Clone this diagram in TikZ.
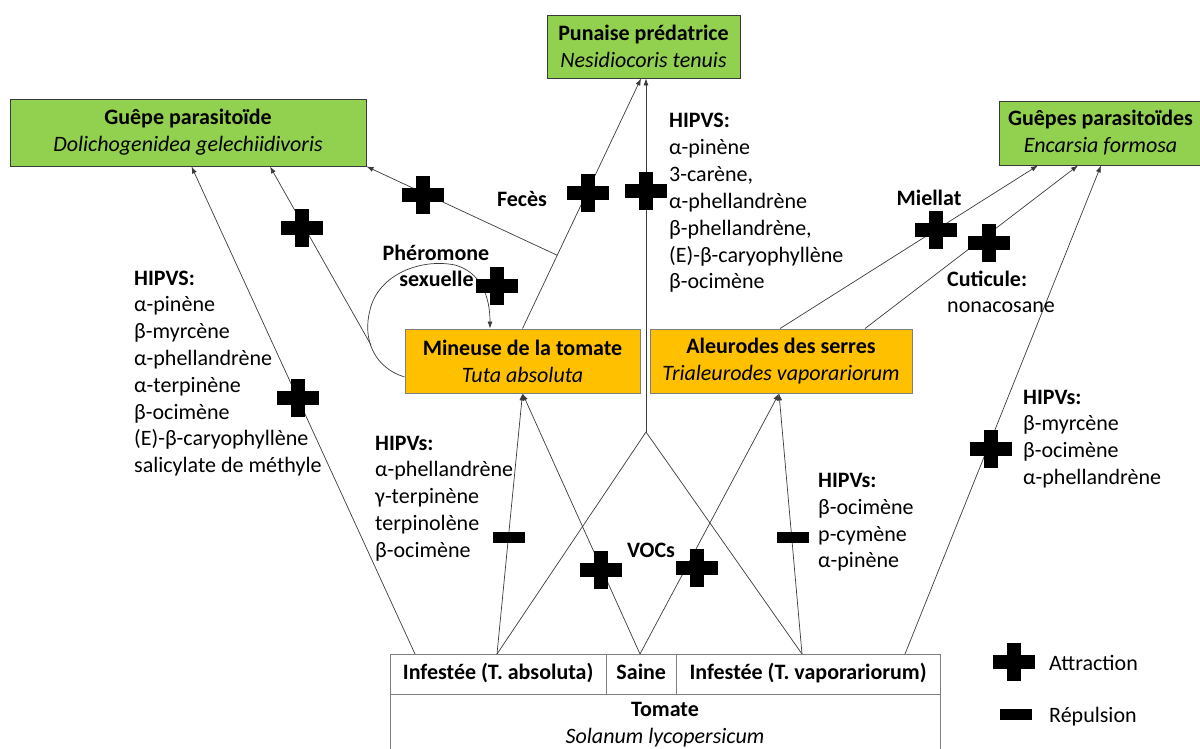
\documentclass[tikz,border=0pt]{standalone}
\usepackage{fontspec}
\setmainfont{Carlito}
\usetikzlibrary{arrows.meta,calc}
\definecolor{leaf}{HTML}{92D050}
\definecolor{amber}{HTML}{FFC000}
\definecolor{wire}{HTML}{3A3A3A}
\definecolor{frame}{HTML}{7F7F7F}
% one text line per node, baselines 26.8pt apart
\newcommand{\linelist}[4]{%
  \foreach \t [count=\i from 0] in {#4}{\node[lbl] (#1\i) at (#2,#3+26.8*\i) {\t};}}
\begin{document}
\begin{tikzpicture}[x=1pt,y=-1pt,
  every node/.style={font=\fontsize{22}{27}\selectfont, inner sep=0pt},
  enemy/.style={draw=wire, line width=0.9pt, fill=leaf, align=center},
  pest/.style={draw=frame, line width=0.9pt, fill=amber, align=center},
  cell/.style={draw=frame, line width=0.9pt, fill=white, align=center, anchor=north west},
  rowcell/.style={cell, minimum height=40, text height=15.5pt, text depth=5pt},
  link/.style={draw=wire, line width=0.7pt},
  arr/.style={link, -{Latex[length=7pt,width=5pt]}},
  lbl/.style={anchor=base west},
  mid/.style={anchor=base},
  attract/.pic={\fill[black] (-21,-7) rectangle (21,7); \fill[black] (-7,-19) rectangle (7,19);},
  repel/.pic={\fill[black] (-16,-5.5) rectangle (16,5.5);}
]
\useasboundingbox (0,0) rectangle (1200,749);

% natural enemies
\node[enemy, minimum width=193, minimum height=63] (punaise) at (643.5,46.5)
  {\textbf{Punaise prédatrice}\\\textit{Nesidiocoris tenuis}};
\node[enemy, minimum width=356, minimum height=67] (guepe) at (188,132.5)
  {\textbf{Guêpe parasitoïde}\\\textit{Dolichogenidea gelechiidivoris}};
\node[enemy, minimum width=203, minimum height=64] (guepes) at (1100.5,133)
  {\textbf{Guêpes parasitoïdes}\\\textit{Encarsia formosa}};

% pests
\node[pest, minimum width=235, minimum height=64] (mineuse) at (522.5,361)
  {\textbf{Mineuse de la tomate}\\\textit{Tuta absoluta}};
\node[pest, minimum width=262, minimum height=64] (aleurode) at (781,361)
  {\textbf{Aleurodes des serres}\\\textit{Trialeurodes vaporariorum}};

% host plant table
\node[rowcell, minimum width=216.2] (infA) at (389.6,654) {\textbf{Infestée (T. absoluta)}};
\node[rowcell, minimum width=70] (saine) at (605.8,654) {\textbf{Saine}};
\node[rowcell, minimum width=263.7] (infV) at (675.8,654) {\textbf{Infestée (T. vaporariorum)}};
\node[cell, minimum width=549.9, minimum height=66, text depth=10pt] (tomate) at (389.6,694)
  {\textbf{Tomate}\\\textit{Solanum lycopersicum}};

% connector end points
\coordinate (s1) at (415,654);
\coordinate (s2) at (497,654);
\coordinate (s3) at (640,654);
\coordinate (s4) at (802,654);
\coordinate (s5) at (905,654);
\coordinate (apex) at (646,432);
\coordinate (loopjoin) at (371,345);
\coordinate (ptipA) at ($(punaise.south)+(-2.5,0)$);
\coordinate (fj) at ($(mineuse.north)!0.293!(ptipA)$);

% plant volatiles
\draw[arr] (s1) -- ($(guepe.south)+(3.5,0)$);
\draw[arr] (s2) -- (mineuse.south);
\draw[arr] (s3) -- (mineuse.south);
\draw[arr] (s3) -- ($(aleurode.south)+(-2,0)$);
\draw[arr] (s4) -- ($(aleurode.south)+(-2,0)$);
\draw[link] (s2) -- (apex) -- (s4);
\draw[arr] (apex) -- ($(punaise.south)+(2.5,0)$);
\draw[arr] (s5) -- ($(guepes.south)+(0.5,0)$);

% cues from the pests
\draw[arr] (mineuse.north) -- (ptipA);
\draw[arr] (fj) -- (guepe.south east);
\draw[arr] (loopjoin) -- ($(guepe.south)+(82,0)$);
\draw[arr] ($(mineuse.west)+(0,16)$) .. controls (375,368) and (362,340) .. (370,310)
  .. controls (378,275) and (420,258) .. (455,265)
  .. controls (480,272) and (490,295) .. ($(mineuse.north)+(-32.5,0)$);
\draw[arr] ($(aleurode.north)+(-1,0)$) -- ($(guepes.south)+(-62.5,0)$);
\draw[arr] ($(aleurode.north)+(84,0)$) -- ($(guepes.south)+(-22.5,0)$);

% attraction / repulsion marks
\pic at (298,398) {attract};
\pic at (302,228) {attract};
\pic at (423,195) {attract};
\pic at (588,193) {attract};
\pic at (646,191) {attract};
\pic at (497,286) {attract};
\pic at (936,230) {attract};
\pic at (989,243) {attract};
\pic at (991,449) {attract};
\pic at (601,570) {attract};
\pic at (697,568) {attract};
\pic at (509,537) {repel};
\pic at (793,537) {repel};

% volatile lists
\linelist{hl}{134}{285}{\textbf{HIPVS:},α-pinène,β-myrcène,α-phellandrène,α-terpinène,β-ocimène,(E)-β-caryophyllène,salicylate de méthyle}
\linelist{ht}{669}{128}{\textbf{HIPVS:},α-pinène,{3-carène,},α-phellandrène,{β-phellandrène,},(E)-β-caryophyllène,β-ocimène}
\linelist{hm}{375}{450}{\textbf{HIPVs:},α-phellandrène,γ-terpinène,terpinolène,β-ocimène}
\linelist{hv}{818}{487.5}{\textbf{HIPVs:},β-ocimène,p-cymène,α-pinène}
\linelist{hr}{1023}{404}{\textbf{HIPVs:},β-myrcène,β-ocimène,α-phellandrène}

% cue labels
\node[mid] (feces) at (522,206.7) {\textbf{Fecès}};
\node[mid] (phero) at (436,260.7) {\textbf{Phéromone}};
\node[mid] (sexu) at (436.5,286.7) {\textbf{sexuelle}};
\node[mid] (miel) at (929,205) {\textbf{Miellat}};
\node[lbl] (cuti) at (947,286) {\textbf{Cuticule:}};
\node[lbl] (nona) at (947,312.7) {nonacosane};
\node[mid] (vocs) at (651,557) {\textbf{VOCs}};

% legend
\pic at (1014,662) {attract};
\node[lbl] (legA) at (1049,670) {Attraction};
\pic at (1016,714) {repel};
\node[lbl] (legR) at (1049,722.3) {Répulsion};
\end{tikzpicture}
\end{document}
